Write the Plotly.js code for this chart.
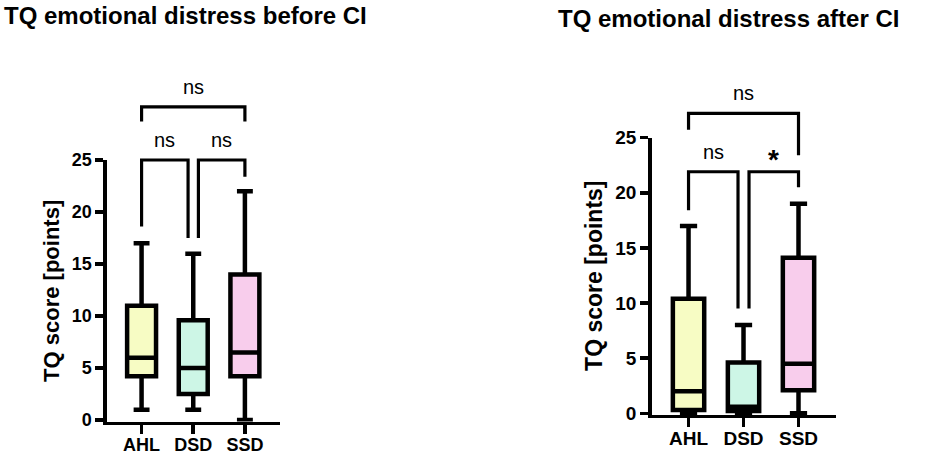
<!DOCTYPE html>
<html>
<head>
<meta charset="utf-8">
<script src="https://cdn.plot.ly/plotly-3.0.1.min.js"></script>
<style>
html, body { margin: 0; padding: 0; background: #fff; }
#chart { width: 935px; height: 456px; }
</style>
</head>
<body>
<div id="chart"></div>
<script>
const groups = ['AHL', 'DSD', 'SSD'];
const boxColors = ['#f7fcc4', '#cdf6e6', '#f8cdec'];
const yTicks = [0, 5, 10, 15, 20, 25];

// TQ emotional distress before CI
const beforeLow = [1, 1, 0];
const beforeQ1 = [4.2, 2.5, 4.2];
const beforeMedian = [6, 5, 6.5];
const beforeQ3 = [11, 9.6, 14];
const beforeHigh = [17, 16, 22];

// TQ emotional distress after CI
const afterLow = [0, 0, 0];
const afterQ1 = [0.3, 0.2, 2.1];
const afterMedian = [2, 0.6, 4.5];
const afterQ3 = [10.4, 4.6, 14.1];
const afterHigh = [17, 8, 19];

// brackets: from group, to group, bar level, left leg end, right leg end, label
const beforeBrackets = [
    [0, 2, 30.1, 28.7, 28.7, 'ns'],
    [0, 1, 25, 18.6, 17.5, 'ns'],
    [1, 2, 25, 17.5, 23.4, 'ns']
];
const afterBrackets = [
    [0, 2, 27.2, 25.7, 23.4, 'ns'],
    [0, 1, 21.9, 18.4, 9.5, 'ns'],
    [1, 2, 21.9, 9.5, 20.5, '*']
];

const FONT = 'Liberation Sans, Arial, sans-serif';

function boxTraces(xa, ya, low, q1, med, q3, high, width) {
    let traces = [];
    for (let i = 0;i < groups.length;i++) {
        traces.push({
            type: 'box',
            x: [i],
            lowerfence: [low[i]],
            q1: [q1[i]],
            median: [med[i]],
            q3: [q3[i]],
            upperfence: [high[i]],
            width: width,
            whiskerwidth: 0.55,
            fillcolor: boxColors[i],
            line: { color: '#000', width: 4.5 },
            boxpoints: false,
            xaxis: xa,
            yaxis: ya,
            hoverinfo: 'skip'
        });
    }
    return traces;
}

function bracketTraces(brackets, xa, ya) {
    let traces = [];
    for (let b of brackets) {
        // legs landing on the shared middle group are pulled apart a little
        let x0 = b[0] + (b[0] === 1 ? 0.1 : 0);
        let x1 = b[1] - (b[1] === 1 ? 0.1 : 0);
        traces.push({
            type: 'scatter',
            mode: 'lines',
            x: [x0, x0, x1, x1],
            y: [b[3], b[2], b[2], b[4]],
            line: { color: '#000', width: 3.2 },
            xaxis: xa,
            yaxis: ya,
            hoverinfo: 'skip'
        });
    }
    return traces;
}

function bracketLabels(brackets, xa, ya) {
    return brackets.map(b => {
        let x0 = b[0] + (b[0] === 1 ? 0.1 : 0);
        let x1 = b[1] - (b[1] === 1 ? 0.1 : 0);
        let star = b[5] !== 'ns';
        return {
            xref: xa, yref: ya,
            x: (x0 + x1) / 2, y: b[2],
            text: b[5],
            showarrow: false,
            xanchor: 'center', yanchor: 'middle',
            yshift: star ? 12 : 20,
            font: { family: FONT, size: star ? 28 : 20, color: '#000', weight: star ? 'bold' : 'normal' }
        };
    });
}

function xAxis(domain, anchor, size) {
    return {
        domain: domain,
        anchor: anchor,
        range: [-0.67, 2.68],
        tickvals: [0, 1, 2],
        ticktext: groups,
        showline: true,
        linewidth: 3.5,
        linecolor: '#000',
        ticks: 'outside',
        ticklen: 9,
        tickwidth: 3.5,
        tickcolor: '#000',
        ticklabelstandoff: -5,
        showgrid: false,
        zeroline: false,
        tickfont: { family: FONT, size: size, color: '#000', weight: 'bold' }
    };
}

function yAxis(domain, anchor, size) {
    return {
        domain: domain,
        anchor: anchor,
        range: [-0.15, 25],
        tickvals: yTicks,
        showline: true,
        linewidth: 3.5,
        linecolor: '#000',
        ticks: 'outside',
        ticklen: 8,
        tickwidth: 3.5,
        tickcolor: '#000',
        showgrid: false,
        zeroline: false,
        tickfont: { family: FONT, size: size, color: '#000', weight: 'bold' }
    };
}

function bracketAxis(domain, anchor, top) {
    return {
        domain: domain,
        anchor: anchor,
        range: [-0.15, top],
        visible: false,
        showgrid: false,
        zeroline: false
    };
}

let data = [].concat(
    boxTraces('x', 'y', beforeLow, beforeQ1, beforeMedian, beforeQ3, beforeHigh, 0.56),
    bracketTraces(beforeBrackets, 'x', 'y2'),
    boxTraces('x2', 'y3', afterLow, afterQ1, afterMedian, afterQ3, afterHigh, 0.57),
    bracketTraces(afterBrackets, 'x2', 'y4')
);

let titleFont = { family: FONT, size: 24, color: '#000', weight: 'bold' };

let layout = {
    width: 935,
    height: 456,
    margin: { l: 0, r: 0, t: 0, b: 0 },
    paper_bgcolor: '#fff',
    plot_bgcolor: 'rgba(0,0,0,0)',
    showlegend: false,
    boxmode: 'overlay',
    xaxis: xAxis([0.1144, 0.2995], 'y', 18),
    yaxis: yAxis([0.0754, 0.6491], 'x', 18),
    yaxis2: bracketAxis([0.0754, 0.8316], 'x', 33),
    xaxis2: xAxis([0.697, 0.894], 'y3', 19),
    yaxis3: yAxis([0.0900, 0.6980], 'x2', 19),
    yaxis4: bracketAxis([0.0900, 0.8314], 'x2', 30.5),
    annotations: [
        {
            xref: 'paper', yref: 'paper', x: 0.002, y: 0.965,
            xanchor: 'left', yanchor: 'middle', showarrow: false,
            text: 'TQ emotional distress before CI', font: titleFont
        },
        {
            xref: 'paper', yref: 'paper', x: 0.595, y: 0.96,
            xanchor: 'left', yanchor: 'middle', showarrow: false,
            text: 'TQ emotional distress after CI', font: titleFont
        },
        {
            xref: 'paper', yref: 'paper', x: 0.0556, y: 0.362,
            xanchor: 'center', yanchor: 'middle', showarrow: false, textangle: -90,
            text: 'TQ score [points]', font: { family: FONT, size: 22, color: '#000', weight: 'bold' }
        },
        {
            xref: 'paper', yref: 'paper', x: 0.6353, y: 0.395,
            xanchor: 'center', yanchor: 'middle', showarrow: false, textangle: -90,
            text: 'TQ score [points]', font: { family: FONT, size: 23, color: '#000', weight: 'bold' }
        }
    ].concat(bracketLabels(beforeBrackets, 'x', 'y2'), bracketLabels(afterBrackets, 'x2', 'y4'))
};

Plotly.newPlot('chart', data, layout, { staticPlot: true });
</script>
</body>
</html>
